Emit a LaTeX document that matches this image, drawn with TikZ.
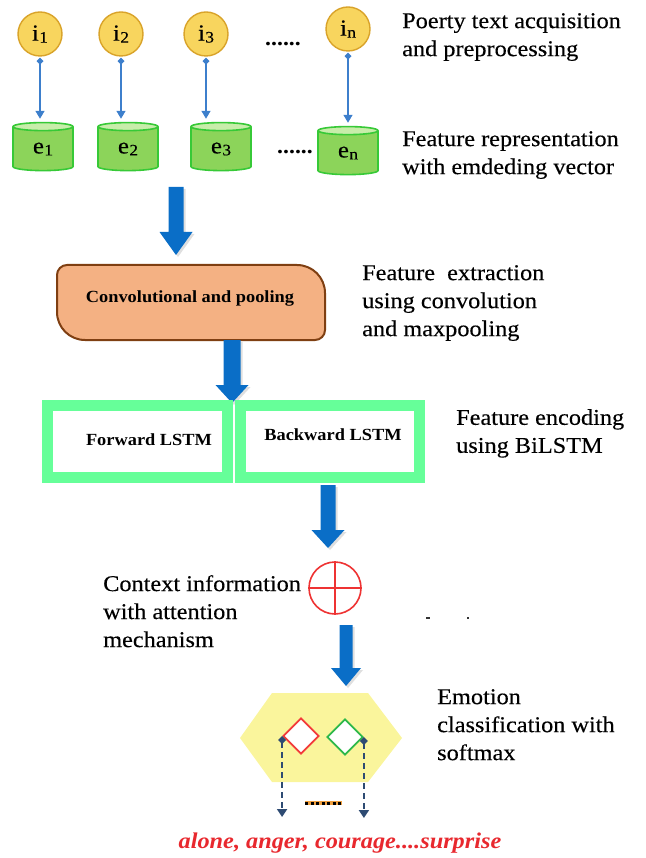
\documentclass[tikz,border=0pt]{standalone}
\usepackage{fontspec}
\setmainfont[FakeStretch=1.08]{Liberation Serif}
\newfontfamily\heavyserif[FakeStretch=1.08,FakeBold=0.3]{Liberation Serif}
\usetikzlibrary{shapes.geometric,arrows.meta,shadows}

\definecolor{circfill}{HTML}{F8D55E}
\definecolor{circline}{HTML}{D9A32A}
\definecolor{cylbody}{HTML}{8CD45A}
\definecolor{cylend}{HTML}{C8EDAA}
\definecolor{cylline}{HTML}{37C937}
\definecolor{connblue}{HTML}{3D7FCC}
\definecolor{blockblue}{HTML}{0A6EC7}
\definecolor{convfill}{HTML}{F4B183}
\definecolor{convline}{HTML}{7F3F12}
\definecolor{lstmgreen}{HTML}{66FF99}
\definecolor{attnred}{HTML}{EE3333}
\definecolor{hexfill}{HTML}{FAF59C}
\definecolor{dred}{HTML}{F23A3A}
\definecolor{dgreen}{HTML}{2DB84A}
\definecolor{navy}{HTML}{2E4B73}
\definecolor{outred}{HTML}{E8282E}
\definecolor{dotorange}{HTML}{F0A040}

% downward block arrow: x, top, start of head, tip, shaft half width, head half width
\newcommand\blockdown[6]{%
  \fill[blockarrow] (#1-#5,#2) -- (#1+#5,#2) -- (#1+#5,#3) -- (#1+#6,#3)
    -- (#1,#4) -- (#1-#6,#3) -- (#1-#5,#3) -- cycle;}
% token letter with its index
\newcommand\tok[2]{#1\kern0.4pt\raisebox{-2pt}{\fontsize{16}{18}\selectfont #2}}

\begin{document}
\begin{tikzpicture}[x=1pt,y=-1pt,
  inode/.style={circle, draw=circline, fill=circfill, line width=1.4pt,
    minimum size=44pt, inner sep=0pt, font=\heavyserif\fontsize{23}{24}\selectfont},
  enode/.style={cylinder, shape border rotate=90, aspect=0.4, draw=cylline,
    line width=1.6pt, cylinder uses custom fill, cylinder body fill=cylbody,
    cylinder end fill=cylend, minimum width=60pt, minimum height=48pt,
    inner sep=0pt, font=\heavyserif\fontsize{23}{24}\selectfont},
  conn/.style={draw=connblue, line width=1.4pt,
    {Diamond[length=7pt,width=7pt]}-{Triangle[length=8pt,width=9pt]}},
  blockarrow/.style={fill=blockblue,
    drop shadow={shadow xshift=2pt, shadow yshift=-2pt, opacity=0.25}},
  label/.style={anchor=north west, inner sep=0pt, align=left,
    font=\heavyserif\fontsize{22.5}{28}\selectfont},
  boxtext/.style={font=\bfseries\fontsize{17}{20}\selectfont},
  lstmframe/.style={draw=lstmgreen, line width=11pt},
  choice/.style={diamond, aspect=1, fill=white, line width=1.8pt,
    minimum size=36pt, inner sep=0pt},
  dasharrow/.style={draw=navy, line width=2.2pt, dash pattern=on 6pt off 4pt,
    {Diamond[length=8pt,width=8pt]}-{Triangle[length=8pt,width=10pt]}},
  dots/.style={font=\bfseries\fontsize{22}{24}\selectfont, inner sep=0pt}
]
\useasboundingbox (0,0) rectangle (645,858);

% input tokens
\node[inode] (i1) at (40,34) {\tok{i}{1}};
\node[inode] (i2) at (121,34) {\tok{i}{2}};
\node[inode] (i3) at (206,34) {\tok{i}{3}};
\node[inode] (in) at (348,29) {\tok{i}{n}};
\node[dots] (idots) at (283,44) {......};

% embedding vectors
\node[enode] (e1) at (43,149) {\tok{e}{1}};
\node[enode] (e2) at (128,149) {\tok{e}{2}};
\node[enode] (e3) at (221,149) {\tok{e}{3}};
\node[enode] (en) at (348,153) {\tok{e}{n}};
\node[dots] (edots) at (295,152) {......};

\foreach \k in {1,2,3,n} {
  \draw[conn] ([yshift=-1pt]i\k.south) -- ([yshift=3pt]i\k.south |- e\k.north);
}

\node[label] (t1) at (402,13) {Poerty text acquisition\\and preprocessing};
\node[label] (t2) at (402,131) {Feature representation\\with emdeding vector};

\blockdown{176}{187}{232}{255}{7.5}{16.5}

% convolution and pooling block: small rounding top-left/bottom-right,
% large rounding top-right/bottom-left
\draw[fill=convfill, draw=convline, line width=2pt]
  (67,265) -- (297,265)
  .. controls (312.5,265) and (325,277.5) .. (325,293)
  -- (325,330)
  .. controls (325,335.5) and (320.5,340) .. (315,340)
  -- (85,340)
  .. controls (69.5,340) and (57,327.5) .. (57,312)
  -- (57,275)
  .. controls (57,269.5) and (61.5,265) .. (67,265) -- cycle;
\node[boxtext] (conv) at (190,298) {Convolutional and pooling};
\node[label] (t3) at (362,265) {Feature~ extraction\\using convolution\\and maxpooling};

\blockdown{232}{340}{385}{403}{8.5}{16.5}

% BiLSTM
\draw[lstmframe] (47.5,405.5) rectangle (227,477.5);
\draw[lstmframe] (240.5,405.5) rectangle (419.5,477.5);
\node[boxtext] (fw) at (149,440) {Forward LSTM};
\node[boxtext] (bw) at (333,435) {Backward LSTM};
\node[label] (t4) at (456,409) {Feature encoding\\using BiLSTM};

\blockdown{328}{485}{530}{548}{7.5}{16.5}

% attention
\node[circle, draw=attnred, line width=1.6pt, minimum size=52pt, inner sep=0pt]
  (att) at (335,588) {};
\draw[attnred, line width=1.6pt] (att.west) -- (att.east);
\draw[attnred, line width=1.6pt] (att.north) -- (att.south);
\node[label] (t5) at (103,575) {Context information\\with attention\\mechanism};
\fill[black!80] (426,617) rectangle (430,619);
\fill[black!80] (467,617) rectangle (469,619);

\blockdown{346}{625}{668}{686}{6.5}{15}

% softmax classification
\fill[hexfill] (240,738) -- (272,693) -- (368,693) -- (402,738) -- (368,782)
  -- (272,782) -- cycle;
\node[choice, draw=dred] (rd) at (301,736) {};
\node[choice, draw=dgreen] (gd) at (345,737) {};
\draw[dasharrow] (rd.west) -- ++(0,81);
\draw[dasharrow] (gd.east) -- ++(0,81);
\draw[dotorange, line width=4pt] (305,803) -- (342,803);
\draw[black, line width=3pt, dash pattern=on 3pt off 2.5pt] (305,803) -- (342,803);
\node[label] (t6) at (437,689) {Emotion\\classification with\\softmax};

\node[text=outred, font=\bfseries\itshape\fontsize{22.5}{24}\selectfont, inner sep=0pt]
  (out) at (340,843) {alone, anger, courage....surprise};
\end{tikzpicture}
\end{document}
